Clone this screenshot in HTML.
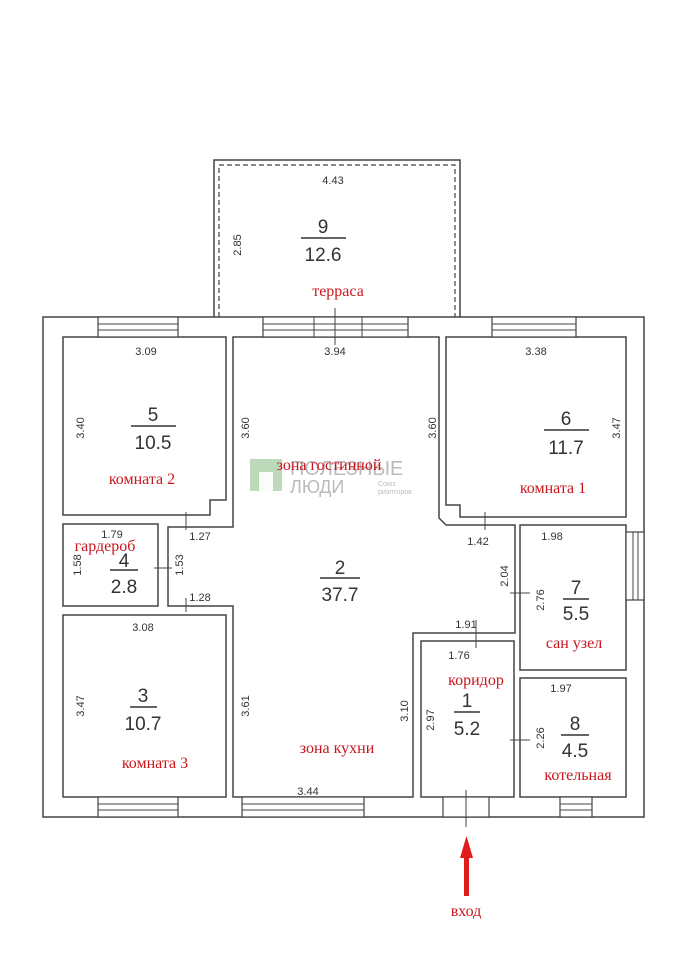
<!DOCTYPE html>
<html><head><meta charset="utf-8"><style>
html,body{margin:0;padding:0;background:#fff;width:678px;height:960px;overflow:hidden}
svg text{font-family:"Liberation Sans",sans-serif;fill:#333}
.d{font-size:11px}
.n{font-size:19px}
.r{font-family:"Liberation Serif",serif !important;fill:#c8161d !important;font-size:16px}
</style></head><body>
<svg width="678" height="960" viewBox="0 0 678 960" xmlns="http://www.w3.org/2000/svg">
<g fill="none" stroke="#444" stroke-width="1.5">
<!-- terrace -->
<path d="M214 317 V160 H460 V317"/>
<path d="M219 317 V165 H455 V317" stroke-dasharray="5 3" stroke-width="1.2"/>
<!-- outer walls -->
<rect x="43" y="317" width="601" height="500"/>
<!-- room 5 -->
<path d="M63 337 H226 V500 H210 V515 H63 Z"/>
<!-- room 2 -->
<path d="M233 337 H439 V518 L446 525 H515 V633 H413 V797 H233 V606 H168 V527 H233 Z"/>
<!-- room 6 -->
<path d="M446 337 H626 V517 H460 V505 H446 Z"/>
<!-- room 4 -->
<rect x="63" y="524" width="95" height="82"/>
<!-- room 3 -->
<rect x="63" y="615" width="163" height="182"/>
<!-- room 7 -->
<rect x="520" y="525" width="106" height="145"/>
<!-- room 8 -->
<rect x="520" y="678" width="106" height="119"/>
<!-- room 1 -->
<rect x="421" y="641" width="93" height="156"/>
</g>
<!-- windows -->
<g fill="#fff" stroke="#444" stroke-width="1.2">
<rect x="98" y="317" width="80" height="20"/>
<rect x="263" y="317" width="145" height="20"/>
<rect x="492" y="317" width="84" height="20"/>
<rect x="626" y="532" width="18" height="68"/>
<rect x="98" y="797" width="80" height="20"/>
<rect x="242" y="797" width="122" height="20"/>
<rect x="560" y="797" width="32" height="20"/>
<rect x="443" y="797" width="46" height="20"/>
</g>
<g stroke="#444" stroke-width="1">
<path d="M98 324H178M98 330H178M263 324H408M263 330H408M492 324H576M492 330H576M633 532V600M638 532V600M98 804H178M98 810H178M242 804H364M242 810H364M560 804H592M560 810H592"/>
<path d="M314 317V337M362 317V337M335 308V345M466 790V827"/>
<path d="M485 512V530M476 620V648M510 593H530M510 740H530M154 568H172M186 512V530M186 598V612"/>
</g>
<line x1="301" y1="238" x2="346" y2="238" stroke="#333" stroke-width="1.5"/>
<line x1="131" y1="426" x2="176" y2="426" stroke="#333" stroke-width="1.5"/>
<line x1="544" y1="430" x2="589" y2="430" stroke="#333" stroke-width="1.5"/>
<line x1="110" y1="570" x2="138" y2="570" stroke="#333" stroke-width="1.5"/>
<line x1="320" y1="578" x2="360" y2="578" stroke="#333" stroke-width="1.5"/>
<line x1="130" y1="707" x2="157" y2="707" stroke="#333" stroke-width="1.5"/>
<line x1="563" y1="599" x2="589" y2="599" stroke="#333" stroke-width="1.5"/>
<line x1="454" y1="712" x2="480" y2="712" stroke="#333" stroke-width="1.5"/>
<line x1="561" y1="735" x2="589" y2="735" stroke="#333" stroke-width="1.5"/>
<!-- numbers -->
<g text-anchor="middle" class="n">
<text x="323" y="233" class="n">9</text><text x="323" y="261" class="n">12.6</text>
<text x="153" y="421" class="n">5</text><text x="153" y="449" class="n">10.5</text>
<text x="566" y="425" class="n">6</text><text x="566" y="454" class="n">11.7</text>
<text x="124" y="567" class="n">4</text><text x="124" y="593" class="n">2.8</text>
<text x="340" y="574" class="n">2</text><text x="340" y="601" class="n">37.7</text>
<text x="143" y="702" class="n">3</text><text x="143" y="730" class="n">10.7</text>
<text x="576" y="594" class="n">7</text><text x="576" y="620" class="n">5.5</text>
<text x="467" y="707" class="n">1</text><text x="467" y="735" class="n">5.2</text>
<text x="575" y="730" class="n">8</text><text x="575" y="757" class="n">4.5</text>
</g>
<!-- dims -->
<g text-anchor="middle" class="d">
<text x="333" y="184" class="d">4.43</text>
<text x="146" y="355" class="d">3.09</text>
<text x="335" y="355" class="d">3.94</text>
<text x="536" y="355" class="d">3.38</text>
<text x="112" y="538" class="d">1.79</text>
<text x="200" y="540" class="d">1.27</text>
<text x="478" y="545" class="d">1.42</text>
<text x="552" y="540" class="d">1.98</text>
<text x="200" y="601" class="d">1.28</text>
<text x="143" y="631" class="d">3.08</text>
<text x="466" y="628" class="d">1.91</text>
<text x="459" y="659" class="d">1.76</text>
<text x="561" y="692" class="d">1.97</text>
<text x="308" y="795" class="d">3.44</text>
</g>
<g class="d" text-anchor="middle">
<text transform="translate(241,245) rotate(-90)" class="d">2.85</text>
<text transform="translate(84,428) rotate(-90)" class="d">3.40</text>
<text transform="translate(249,428) rotate(-90)" class="d">3.60</text>
<text transform="translate(436,428) rotate(-90)" class="d">3.60</text>
<text transform="translate(620,428) rotate(-90)" class="d">3.47</text>
<text transform="translate(81,565) rotate(-90)" class="d">1.58</text>
<text transform="translate(183,565) rotate(-90)" class="d">1.53</text>
<text transform="translate(508,576) rotate(-90)" class="d">2.04</text>
<text transform="translate(544,600) rotate(-90)" class="d">2.76</text>
<text transform="translate(84,706) rotate(-90)" class="d">3.47</text>
<text transform="translate(249,706) rotate(-90)" class="d">3.61</text>
<text transform="translate(408,711) rotate(-90)" class="d">3.10</text>
<text transform="translate(434,720) rotate(-90)" class="d">2.97</text>
<text transform="translate(544,738) rotate(-90)" class="d">2.26</text>
</g>
<!-- watermark -->
<rect x="250" y="459" width="32" height="32" fill="#8fbf8c" opacity="0.6"/>
<rect x="259" y="472" width="14" height="19" fill="#fff" opacity="0.9"/>
<text x="290" y="475" style="font-size:20px;fill:#bbb">ПОЛЕЗНЫЕ</text>
<text x="290" y="493" style="font-size:18px;fill:#bbb">ЛЮДИ</text>
<text x="378" y="486" style="font-size:7px;fill:#bbb">Союз</text>
<text x="378" y="494" style="font-size:7px;fill:#bbb">риэлторов</text>
<!-- red labels -->
<g text-anchor="middle">
<text x="338" y="296" class="r">терраса</text>
<text x="142" y="484" class="r">комната 2</text>
<text x="553" y="493" class="r">комната 1</text>
<text x="329" y="470" class="r">зона гостинной</text>
<text x="105" y="551" class="r">гардероб</text>
<text x="574" y="648" class="r">сан узел</text>
<text x="476" y="685" class="r">коридор</text>
<text x="155" y="768" class="r">комната 3</text>
<text x="337" y="753" class="r">зона кухни</text>
<text x="578" y="780" class="r">котельная</text>
<text x="466" y="916" class="r">вход</text>
</g>
<!-- arrow -->
<rect x="464" y="854" width="5" height="42" fill="#e01b1b"/>
<polygon points="466.5,836 460,858 473,858" fill="#e01b1b"/>
</svg>
</body></html>
